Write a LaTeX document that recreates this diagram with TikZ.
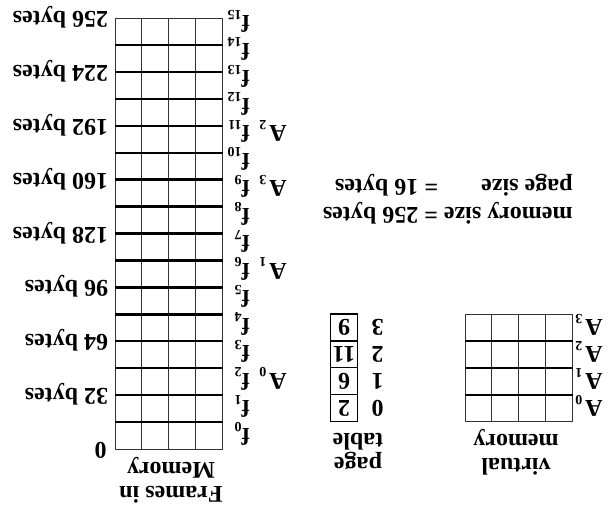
\documentclass[tikz,border=0pt]{standalone}
\usepackage{fontspec}
\setmainfont{Liberation Serif}
\newcommand{\sbs}[1]{\raisebox{-2.7pt}{\fontsize{7}{7}\selectfont #1}}
\tikzset{
  % all text stands upside down
  lbl/.style={rotate=180,inner sep=0pt,font=\bfseries\fontsize{12}{12}\selectfont},
  twol/.style={lbl,align=center},
  thinl/.style={draw=black!80,line width=0.5pt},
  thickl/.style={draw=black,line width=1.2pt},
  ptl/.style={draw=black,line width=0.6pt},
}
\begin{document}
\begin{tikzpicture}[x=0.5pt,y=-0.5pt]
\useasboundingbox (0,0) rectangle (613,510);
  % frames in memory
  \foreach \i in {0,...,4}
    \draw[thinl] (115+\i*26.94,18) -- (115+\i*26.94,449);
  \draw[thinl] (115,18) -- (222.76,18) (115,449) -- (222.76,449);
  \foreach \k in {1,...,15}
    \draw[thickl] (115,18+\k*26.94) -- (222.76,18+\k*26.94);
  \foreach \v [count=\j from 0] in {256,224,192,160,128,96,64,32}
    \node[lbl,anchor=base west] (b\v) at (108.5,{18+2*\j*26.94-6.5}) {\v{} bytes};
  \node[lbl,anchor=base west] (b0) at (107,442.5) {0};
  \foreach \k in {0,...,15}
    \node[lbl,anchor=base west] (f\k) at (250,{428-27.5*\k}) {f\sbs{\k}};
  \foreach \a/\k in {0/2,1/6,2/11,3/9}
    \node[lbl,anchor=base west] (m\a) at (287,{428-27.5*\k}) {A\kern1.5pt\sbs{\a}};
  \node[twol] (frames) at (171,480.6) {Frames in\\Memory};
  % virtual memory
  \foreach \i in {0,...,4}
    \draw[thinl] (465+\i*26.94,314) -- (465+\i*26.94,421.76);
  \draw[thinl] (465,314) -- (572.76,314) (465,421.76) -- (572.76,421.76);
  \foreach \k in {1,2,3}
    \draw[thickl] (465,314+\k*26.94) -- (572.76,314+\k*26.94);
  \foreach \a in {0,...,3}
    \node[lbl,anchor=base west] (v\a) at (603,{314+(3.5-\a)*26.94-7.7}) {A\kern1.5pt\sbs{\a}};
  \node[twol] (virt) at (516,452) {virtual\\memory};
  % page table
  \foreach \r/\n in {0/2,1/6,2/11,3/9} {
    \draw[ptl] (330.7,{314+(3-\r)*26.94}) rectangle (357.4,{314+(4-\r)*26.94});
    \node[lbl] (p\r) at (344,{314+(3.5-\r)*26.94}) {\n};
    \node[lbl] (i\r) at (377.5,{314+(3.5-\r)*26.94}) {\r};
  }
  \node[twol] (ptab) at (358,452) {page\\table};
  % sizes
  \node[lbl,anchor=west,font=\bfseries\fontsize{12}{14}\selectfont] (sizes) at (573,198.6)
    {\begin{tabular}{@{}l@{ }l@{}}memory size &= 256 bytes\\page size &= 16 bytes\end{tabular}};
\end{tikzpicture}
\end{document}
